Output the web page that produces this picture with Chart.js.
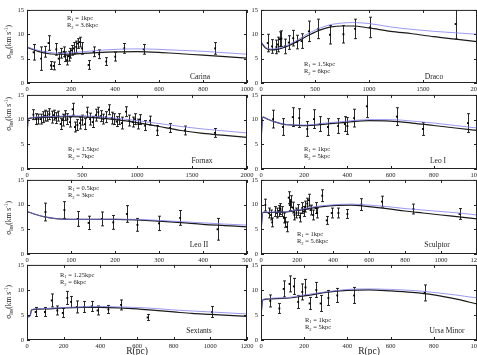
<!DOCTYPE html>
<html>
<head>
<meta charset="utf-8">
<script src="https://cdn.jsdelivr.net/npm/chart.js@4"></script>
<style>
  body { margin: 0; background: #fff; width: 477px; height: 355px; overflow: hidden; position: relative; }
  canvas { position: absolute; }
</style>
</head>
<body>
<script>
// ---- dati: R in pc, sigma in km/s ----
var carinaR   = [30, 64, 83, 98, 109, 121, 133, 144, 156, 166, 174, 182, 189, 197, 204, 212, 224, 231, 239, 250, 280, 303, 328, 360, 401, 442, 530, 855];
var carinaSig = [6.3, 5.0, 6.4, 8.2, 3.6, 3.5, 6.9, 5.0, 6.1, 6.4, 5.4, 4.7, 5.5, 6.1, 6.7, 7.1, 7.4, 8.1, 8.4, 7.1, 3.7, 6.4, 5.9, 4.4, 5.4, 7.1, 6.9, 7.1];
var carinaErr = [1.6, 2.4, 1.1, 1.5, 0.8, 0.8, 1.2, 1.2, 1.0, 1.0, 1.0, 1.0, 1.0, 1.0, 1.0, 1.2, 1.2, 1.0, 1.0, 1.2, 0.9, 1.0, 0.9, 0.8, 0.9, 1.0, 1.0, 1.2];
var carinaModelR = [0, 50, 100, 150, 200, 300, 400, 500, 600, 700, 800, 900, 1000];
var carinaBlack  = [7.3, 6.5, 6.0, 5.9, 5.95, 6.2, 6.4, 6.45, 6.3, 6.0, 5.7, 5.4, 5.1];
var carinaBlue   = [7.4, 6.7, 6.3, 6.1, 6.2, 6.6, 6.9, 7.0, 6.9, 6.7, 6.5, 6.2, 5.9];

var dracoR   = [62, 102, 143, 155, 174, 189, 220, 257, 298, 335, 375, 443, 530, 639, 763, 871, 1008, 1802];
var dracoSig = [8.2, 7.5, 7.4, 7.9, 9.0, 9.1, 7.5, 8.3, 9.2, 8.4, 8.6, 10.6, 11.1, 9.9, 10.0, 11.1, 11.4, 12.1];
var dracoErr = [1.8, 1.4, 1.4, 1.5, 1.5, 1.6, 1.5, 1.4, 1.6, 1.4, 1.5, 2.1, 2.0, 1.9, 1.8, 2.0, 2.1, 3.1];
var dracoModelR = [0, 40, 90, 150, 250, 350, 450, 550, 650, 750, 850, 1000, 1200, 1400, 1600, 1800, 2000];
var dracoBlack  = [8.4, 7.2, 6.8, 6.9, 7.6, 8.7, 9.9, 10.9, 11.5, 11.7, 11.7, 11.3, 10.6, 10.1, 9.5, 9.0, 8.5];
var dracoBlue   = [8.5, 7.4, 7.0, 7.1, 7.8, 9.0, 10.3, 11.3, 12.0, 12.3, 12.4, 12.2, 11.5, 11.0, 10.6, 10.3, 10.0];

var fornaxR   = [58, 82, 103, 124, 142, 164, 185, 203, 224, 245, 264, 285, 306, 324, 345, 367, 391, 415, 436, 458, 482, 503, 527, 548, 573, 597, 627, 648, 670, 694, 718, 745, 770, 794, 815, 839, 861, 900, 930, 961, 982, 1012, 1027, 1073, 1118, 1185, 1300, 1436, 1709];
var fornaxSig = [11.0, 10.1, 10.1, 10.1, 10.5, 10.8, 10.7, 11.1, 10.5, 10.9, 10.3, 10.7, 9.1, 9.9, 10.8, 10.1, 9.5, 12.1, 8.5, 8.9, 9.3, 9.9, 9.1, 11.5, 10.1, 9.5, 10.9, 11.5, 10.7, 10.1, 10.5, 12.0, 10.3, 10.1, 9.6, 10.1, 9.3, 11.6, 9.8, 9.5, 10.1, 9.1, 10.0, 8.8, 9.8, 7.8, 8.3, 7.8, 7.3];
var fornaxErr = [1.0, 1.1, 1.0, 1.0, 1.1, 1.1, 1.0, 1.1, 1.2, 1.0, 1.1, 1.0, 1.1, 1.2, 1.0, 1.1, 1.0, 1.2, 1.0, 1.1, 1.2, 1.0, 1.1, 1.0, 1.2, 1.1, 1.2, 1.0, 1.1, 1.0, 1.1, 1.0, 1.2, 1.1, 1.0, 1.1, 1.2, 1.0, 1.1, 1.0, 1.1, 1.0, 1.0, 1.0, 0.9, 1.0, 0.9, 0.9, 0.9];
var fornaxModelR = [0, 12, 200, 400, 600, 800, 1000, 1200, 1400, 1600, 1800, 2000];
var fornaxBlack  = [6.9, 10.2, 10.5, 10.6, 10.4, 10.0, 9.4, 8.6, 7.8, 7.2, 6.8, 6.4];
var fornaxBlue   = [6.9, 10.3, 10.6, 10.8, 10.7, 10.3, 9.8, 9.2, 8.6, 8.1, 7.7, 7.3];

var leo1R   = [56, 102, 147, 177, 214, 245, 273, 310, 357, 388, 400, 431, 490, 629, 750, 958];
var leo1Sig = [10.1, 8.5, 10.5, 10.3, 8.1, 10.1, 9.1, 8.5, 8.7, 9.1, 8.7, 10.3, 12.7, 10.6, 8.1, 9.3];
var leo1Err = [1.8, 1.7, 1.9, 1.9, 1.5, 1.9, 1.5, 1.7, 1.5, 1.5, 1.7, 1.8, 2.3, 1.8, 1.3, 1.9];
var leo1ModelR = [0, 8, 30, 60, 100, 150, 200, 300, 400, 500, 600, 700, 800, 900, 1000];
var leo1Black  = [5.6, 10.5, 10.1, 9.6, 9.1, 8.9, 8.8, 9.1, 9.5, 9.8, 9.7, 9.3, 8.8, 8.3, 7.8];
var leo1Blue   = [5.6, 10.5, 10.1, 9.6, 9.1, 8.95, 8.9, 9.3, 9.7, 10.0, 10.0, 9.7, 9.3, 8.8, 8.3];

var leo2R   = [42, 85, 115, 140, 170, 196, 227, 251, 300, 348, 433];
var leo2Sig = [8.5, 8.9, 7.1, 6.3, 7.1, 6.4, 8.1, 5.9, 6.2, 7.3, 5.0];
var leo2Err = [1.8, 1.7, 1.5, 1.35, 1.4, 1.4, 1.7, 1.3, 1.45, 1.5, 2.2];
var leo2ModelR = [0, 20, 40, 60, 100, 150, 200, 250, 300, 350, 400, 450, 500];
var leo2Black  = [8.6, 8.0, 7.5, 7.2, 7.0, 7.0, 7.0, 6.9, 6.65, 6.35, 6.0, 5.75, 5.5];
var leo2Blue   = [8.6, 8.0, 7.5, 7.2, 7.0, 7.0, 7.05, 7.0, 6.8, 6.55, 6.3, 6.05, 5.85];

var sculptorR   = [24, 43, 56, 62, 80, 89, 99, 108, 117, 127, 136, 145, 154, 160, 167, 177, 186, 197, 205, 216, 229, 238, 247, 257, 266, 275, 290, 303, 312, 340, 365, 393, 430, 480, 558, 672, 847, 1103];
var sculptorSig = [9.9, 8.3, 7.9, 6.4, 8.6, 8.3, 8.7, 9.1, 8.6, 7.3, 6.4, 5.5, 11.4, 9.9, 10.6, 9.4, 7.9, 8.3, 8.9, 7.4, 9.3, 8.6, 9.6, 10.2, 10.9, 8.9, 7.9, 9.3, 8.3, 11.8, 6.8, 8.3, 8.3, 8.1, 10.0, 10.6, 9.1, 8.1];
var sculptorErr = [1.2, 1.0, 1.0, 0.9, 1.0, 1.0, 1.1, 1.1, 1.0, 1.0, 1.0, 1.0, 1.2, 1.1, 1.2, 1.1, 1.0, 1.0, 1.1, 0.9, 1.1, 1.0, 1.1, 1.1, 1.2, 1.0, 1.0, 1.1, 1.0, 1.2, 0.8, 1.0, 1.0, 0.9, 1.2, 1.1, 1.0, 1.1];
var sculptorModelR = [0, 10, 100, 200, 300, 400, 500, 600, 700, 800, 900, 1000, 1100, 1200];
var sculptorBlack  = [4.7, 8.4, 8.4, 8.8, 9.4, 9.8, 9.9, 9.6, 9.2, 8.7, 8.3, 7.9, 7.5, 7.1];
var sculptorBlue   = [4.7, 8.5, 8.5, 8.9, 9.6, 9.95, 10.1, 9.9, 9.6, 9.2, 8.9, 8.6, 8.3, 7.9];

var sextansR   = [47, 98, 135, 165, 195, 220, 240, 271, 313, 353, 385, 444, 513, 658, 1009];
var sextansSig = [5.6, 5.6, 7.9, 5.9, 5.4, 8.4, 7.6, 6.6, 6.6, 6.7, 5.9, 6.1, 7.0, 4.5, 5.6];
var sextansErr = [0.9, 0.9, 1.3, 0.9, 0.9, 1.3, 1.1, 1.2, 1.1, 1.0, 0.9, 0.8, 1.0, 0.6, 1.1];
var sextansModelR = [0, 8, 18, 25, 100, 200, 300, 400, 500, 600, 700, 800, 900, 1000, 1100, 1200];
var sextansBlack  = [5.4, 4.6, 5.0, 6.0, 6.2, 6.4, 6.5, 6.5, 6.4, 6.2, 5.9, 5.6, 5.3, 5.1, 4.9, 4.7];
var sextansBlue   = [5.4, 4.6, 5.0, 6.1, 6.3, 6.5, 6.6, 6.7, 6.6, 6.5, 6.3, 6.0, 5.8, 5.6, 5.4, 5.2];

var umiR   = [43, 85, 105, 132, 152, 172, 191, 206, 225, 256, 276, 312, 353, 431, 757];
var umiSig = [7.8, 6.3, 10.2, 11.2, 10.7, 7.6, 9.6, 10.5, 7.3, 10.0, 7.3, 8.4, 8.9, 8.9, 9.4];
var umiErr = [1.2, 1.0, 1.6, 1.6, 1.6, 1.3, 1.6, 1.6, 1.2, 1.5, 1.6, 1.5, 1.4, 1.6, 1.6];
var umiModelR = [0, 8, 100, 200, 300, 400, 500, 600, 700, 800, 900, 1000];
var umiBlack  = [4.8, 8.0, 8.3, 8.8, 9.5, 9.9, 10.0, 9.8, 9.5, 9.0, 8.2, 7.2];
var umiBlue   = [4.8, 8.1, 8.4, 9.0, 9.6, 10.1, 10.2, 10.1, 9.9, 9.5, 9.0, 8.4];

// ---- impaginazione dei pannelli ----
var colLeft  = [27, 261];
var colWidth = [220, 216];
var rowTop    = [9, 94, 179, 264];
var rowHeight = [74, 75, 75, 76];
var SERIF = 'Liberation Serif, Times New Roman, serif';

var pannelli = [
  { nome: 'Carina', col: 0, row: 0, xMax: 1000, xStep: 200, R: carinaR, sig: carinaSig, err: carinaErr,
    mR: carinaModelR, nero: carinaBlack, blu: carinaBlue, r1: '1kpc', r2: '3.6kpc', rPos: [40, 8], nPos: [173, 67], yTit: 32 },
  { nome: 'Draco', col: 1, row: 0, xMax: 2000, xStep: 500, R: dracoR, sig: dracoSig, err: dracoErr,
    mR: dracoModelR, nero: dracoBlack, blu: dracoBlue, r1: '1.5kpc', r2: '6kpc', rPos: [43, 54], nPos: [173, 67] },
  { nome: 'Fornax', col: 0, row: 1, xMax: 2000, xStep: 500, R: fornaxR, sig: fornaxSig, err: fornaxErr,
    mR: fornaxModelR, nero: fornaxBlack, blu: fornaxBlue, r1: '1.5kpc', r2: '7kpc', rPos: [41, 54], nPos: [175, 66], yTit: 19 },
  { nome: 'Leo I', col: 1, row: 1, xMax: 1000, xStep: 200, R: leo1R, sig: leo1Sig, err: leo1Err,
    mR: leo1ModelR, nero: leo1Black, blu: leo1Blue, r1: '1kpc', r2: '5kpc', rPos: [43, 54], nPos: [177, 66] },
  { nome: 'Leo II', col: 0, row: 2, xMax: 500, xStep: 100, R: leo2R, sig: leo2Sig, err: leo2Err,
    mR: leo2ModelR, nero: leo2Black, blu: leo2Blue, r1: '0.5kpc', r2: '3kpc', rPos: [41, 8], nPos: [172, 65], yTit: 38 },
  { nome: 'Sculptor', col: 1, row: 2, xMax: 1200, xStep: 200, R: sculptorR, sig: sculptorSig, err: sculptorErr,
    mR: sculptorModelR, nero: sculptorBlack, blu: sculptorBlue, r1: '1kpc', r2: '5.6kpc', rPos: [36, 54], nPos: [176, 65] },
  { nome: 'Sextants', col: 0, row: 3, xMax: 1200, xStep: 200, R: sextansR, sig: sextansSig, err: sextansErr,
    mR: sextansModelR, nero: sextansBlack, blu: sextansBlue, r1: '1.25kpc', r2: '6kpc', rPos: [33, 10], nPos: [172, 66], yTit: 37 },
  { nome: 'Ursa Minor', col: 1, row: 3, xMax: 1000, xStep: 200, R: umiR, sig: umiSig, err: umiErr,
    mR: umiModelR, nero: umiBlack, blu: umiBlue, r1: '1kpc', r2: '5kpc', rPos: [44, 55], nPos: [186, 66] }
];

function punti(xs, ys) {
  return xs.map(function (x, i) { return { x: x, y: ys[i] }; });
}

// testo con pedici / apici
function scriviParti(ctx, x, y, parti, size) {
  var cx = x;
  parti.forEach(function (p) {
    var s = p[1] === 'n' ? size : size * 0.7;
    var dy = p[1] === 'sub' ? size * 0.3 : (p[1] === 'sup' ? -size * 0.35 : 0);
    ctx.font = s + 'px ' + SERIF;
    ctx.fillText(p[0], cx, y + dy);
    cx += ctx.measureText(p[0]).width;
  });
  return cx - x;
}
function larghezzaParti(ctx, parti, size) {
  var w = 0;
  parti.forEach(function (p) {
    var s = p[1] === 'n' ? size : size * 0.7;
    ctx.font = s + 'px ' + SERIF;
    w += ctx.measureText(p[0]).width;
  });
  return w;
}

// barre d'errore, sotto le curve
var barreErrore = {
  id: 'barreErrore',
  beforeDatasetsDraw: function (chart) {
    var ctx = chart.ctx, a = chart.chartArea, ys = chart.scales.y;
    chart.data.datasets.forEach(function (ds, i) {
      if (!ds.errori) return;
      var meta = chart.getDatasetMeta(i);
      ctx.save();
      ctx.beginPath();
      ctx.rect(a.left, a.top, a.right - a.left, a.bottom - a.top);
      ctx.clip();
      ctx.strokeStyle = '#111';
      ctx.lineWidth = 0.9;
      ctx.beginPath();
      meta.data.forEach(function (el, j) {
        var v = ds.data[j].y, e = ds.errori[j];
        var y1 = ys.getPixelForValue(v + e), y2 = ys.getPixelForValue(v - e);
        var x = Math.round(el.x) + 0.5;
        ctx.moveTo(x, y1); ctx.lineTo(x, y2);
        ctx.moveTo(x - 1.5, y1); ctx.lineTo(x + 1.5, y1);
        ctx.moveTo(x - 1.5, y2); ctx.lineTo(x + 1.5, y2);
      });
      ctx.stroke();
      ctx.restore();
    });
  }
};

// cornice, tacche interne e scritte
function cornice(p, inBasso) {
  return {
    id: 'cornice',
    afterDraw: function (chart) {
      var ctx = chart.ctx, a = chart.chartArea, xs = chart.scales.x, ys = chart.scales.y;
      ctx.save();
      ctx.strokeStyle = '#222';
      ctx.lineWidth = 1;
      ctx.strokeRect(a.left + 0.5, a.top + 0.5, a.right - a.left - 1, a.bottom - a.top - 1);
      ctx.beginPath();
      xs.ticks.forEach(function (t) {
        var x = Math.round(xs.getPixelForValue(t.value)) + 0.5;
        ctx.moveTo(x, a.bottom); ctx.lineTo(x, a.bottom - 3);
        ctx.moveTo(x, a.top); ctx.lineTo(x, a.top + 3);
      });
      ys.ticks.forEach(function (t) {
        var y = Math.round(ys.getPixelForValue(t.value)) + 0.5;
        ctx.moveTo(a.left, y); ctx.lineTo(a.left + 3, y);
        ctx.moveTo(a.right, y); ctx.lineTo(a.right - 3, y);
      });
      ctx.stroke();

      ctx.fillStyle = '#222';
      ctx.textBaseline = 'middle';
      ctx.textAlign = 'left';
      // R1 / R2
      scriviParti(ctx, a.left + p.rPos[0], a.top + p.rPos[1], [['R', 'n'], ['1', 'sub'], [' = ' + p.r1, 'n']], 6.5);
      scriviParti(ctx, a.left + p.rPos[0], a.top + p.rPos[1] + 7.5, [['R', 'n'], ['2', 'sub'], [' = ' + p.r2, 'n']], 6.5);
      // nome della galassia
      ctx.font = '7.5px ' + SERIF;
      ctx.textAlign = 'center';
      ctx.fillText(p.nome, a.left + p.nPos[0], a.top + p.nPos[1]);

      // titolo asse y solo a sinistra
      if (p.col === 0) {
        var parti = [['\u03c3', 'n'], ['los', 'sub'], ['(km s', 'n'], ['-1', 'sup'], [')', 'n']];
        ctx.save();
        ctx.translate(9, a.top + p.yTit);
        ctx.rotate(-Math.PI / 2);
        ctx.textAlign = 'left';
        var w = larghezzaParti(ctx, parti, 7.5);
        scriviParti(ctx, -w / 2, 0, parti, 7.5);
        ctx.restore();
      }
      // titolo asse x in basso
      if (inBasso) {
        ctx.font = '9.5px ' + SERIF;
        ctx.textAlign = 'center';
        ctx.fillText('R(pc)', (a.left + a.right) / 2, a.bottom + 11);
      }
      ctx.restore();
    }
  };
}

function disegna_pannello(p) {
  var inBasso = p.row === 3;
  var left = colLeft[p.col], top = rowTop[p.row];
  var w = colWidth[p.col], h = rowHeight[p.row];
  var sotto = inBasso ? 355 - (top + h) : 13;
  var cv = document.createElement('canvas');
  cv.width = 27 + w + 12;
  cv.height = 6 + h + sotto;
  cv.style.left = (left - 27) + 'px';
  cv.style.top = (top - 6) + 'px';
  document.body.appendChild(cv);

  var tickFont = { family: SERIF, size: 6.5 };
  // etichette senza separatore delle migliaia
  var etichetta = function (v) { return String(v); };
  new Chart(cv, {
    type: 'scatter',
    data: {
      datasets: [
        { data: punti(p.mR, p.blu), showLine: true, pointRadius: 0, borderColor: 'rgba(120,120,235,0.75)',
          borderWidth: 1, cubicInterpolationMode: 'monotone', order: 0 },
        { data: punti(p.mR, p.nero), showLine: true, pointRadius: 0, borderColor: '#1a1a1a',
          borderWidth: 1.2, cubicInterpolationMode: 'monotone', order: 1 },
        { data: punti(p.R, p.sig), errori: p.err, pointStyle: 'rect', pointRadius: 1.3,
          backgroundColor: '#000', borderWidth: 0, order: 2 }
      ]
    },
    options: {
      responsive: false,
      animation: false,
      events: [],
      layout: { padding: { left: 0, top: 6, right: 12, bottom: 0 } },
      plugins: { legend: { display: false }, tooltip: { enabled: false } },
      scales: {
        x: {
          type: 'linear', min: 0, max: p.xMax,
          ticks: { stepSize: p.xStep, font: tickFont, color: '#222', padding: 2, maxRotation: 0, autoSkip: false, callback: etichetta },
          grid: { display: false, drawTicks: false }, border: { display: false },
          afterFit: function (s) { s.height = sotto; }
        },
        y: {
          min: 0, max: 15,
          ticks: { stepSize: 5, font: tickFont, color: '#222', padding: 3, callback: etichetta },
          grid: { display: false, drawTicks: false }, border: { display: false },
          afterFit: function (s) { s.width = 27; }
        }
      }
    },
    plugins: [barreErrore, cornice(p, inBasso)]
  });
}

pannelli.forEach(disegna_pannello);
</script>
</body>
</html>
